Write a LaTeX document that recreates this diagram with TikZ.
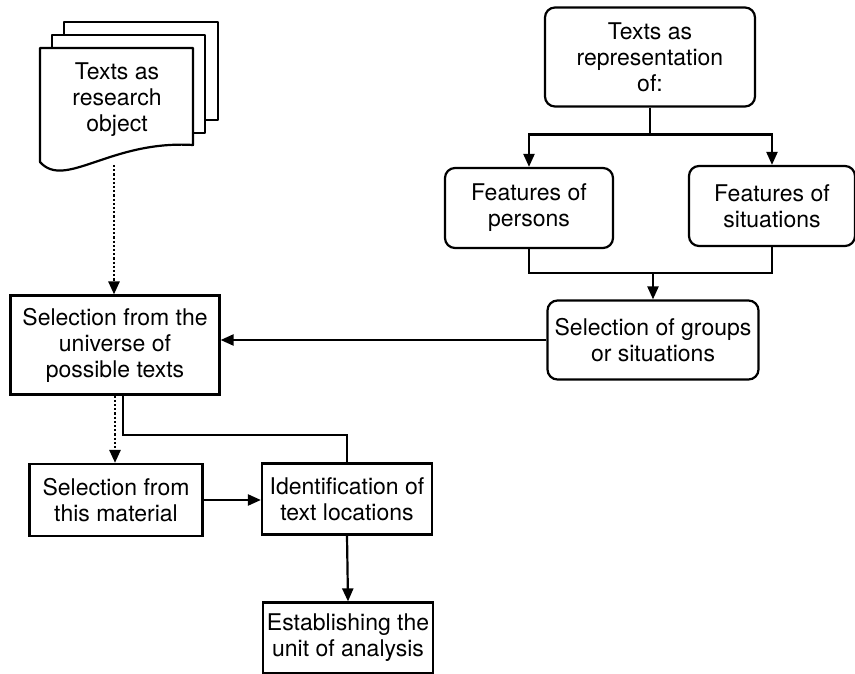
\documentclass[tikz,border=0pt]{standalone}
\usepackage{fontspec}
\setmainfont{TeX Gyre Heros}
\usetikzlibrary{arrows.meta, positioning}

\begin{document}
\begin{tikzpicture}[
        x=1pt, y=-1pt,
        >={Triangle[width=11pt, length=13pt]},
        line width=2.2pt,
        font=\fontsize{23}{26}\selectfont,
        box/.style={
            rectangle,
            draw,
            align=center,
            inner sep=2pt
        },
        roundbox/.style={
            box,
            rounded corners=10pt
        },
        sheet/.style={draw, fill=white, line join=round},
        dotline/.style={line width=2.6pt, dash pattern=on 2.2pt off 2pt}
    ]

    \useasboundingbox (0,0) rectangle (855,674);

    % Stacked sheets
    \draw[sheet] (64,22) rectangle (218,120);
    \draw[sheet] (52,35) rectangle (205,133);
    \draw[sheet] (40,48) -- (193,48) -- (193,145)
        .. controls (110,140) and (65,190) .. (40,162) -- cycle;
    \node[align=center] (object) at (117,100) {Texts as\\research\\object};
    \coordinate (object bottom) at (114,165);

    % Nodes
    \node[roundbox, minimum width=210pt, minimum height=99pt] (rep) at (650,57) {Texts as\\representation\\of:};
    \node[roundbox, minimum width=168pt, minimum height=80pt] (persons) at (529,208) {Features of\\persons};
    \node[roundbox, minimum width=166pt, minimum height=80pt] (situations) at (772,206) {Features of\\situations};
    \node[roundbox, minimum width=211pt, minimum height=79pt] (groups) at (653,340) {Selection of groups\\or situations};
    \node[box, minimum width=209pt, minimum height=99pt] (universe) at (115,345) {Selection from the\\universe of\\possible texts};
    \node[box, minimum width=173pt, minimum height=72pt] (material) at (116,500) {Selection from\\this material};
    \node[box, minimum width=170pt, minimum height=71pt] (locations) at (347,499) {Identification of\\text locations};
    \node[box, minimum width=170pt, minimum height=71pt] (unit) at (348,638) {Establishing the\\unit of analysis};

    % Arrows
    \draw (rep.south) -- ++(0,27) coordinate (split);
    \draw[->] (split) -| (persons.north);
    \draw[->] (split) -| (situations.north);
    \draw (persons.south) |- (situations.south |- 0,273) -- (situations.south);
    \draw[->] (groups.north |- 0,273) -- (groups.north);
    \draw[->] (groups.west) -- (groups.west -| universe.east);
    \draw[->, dotline] (object bottom) -- (object bottom |- universe.north);
    \draw[->, dotline] (universe.south) -- (universe.south |- material.north);
    \draw ([xshift=8pt]universe.south) -- ++(0,39) -| (locations.north);
    \draw[->] (material.east) -- (material.east -| locations.west);
    \draw[->] (locations.south) -- (unit.north);

\end{tikzpicture}
\end{document}
